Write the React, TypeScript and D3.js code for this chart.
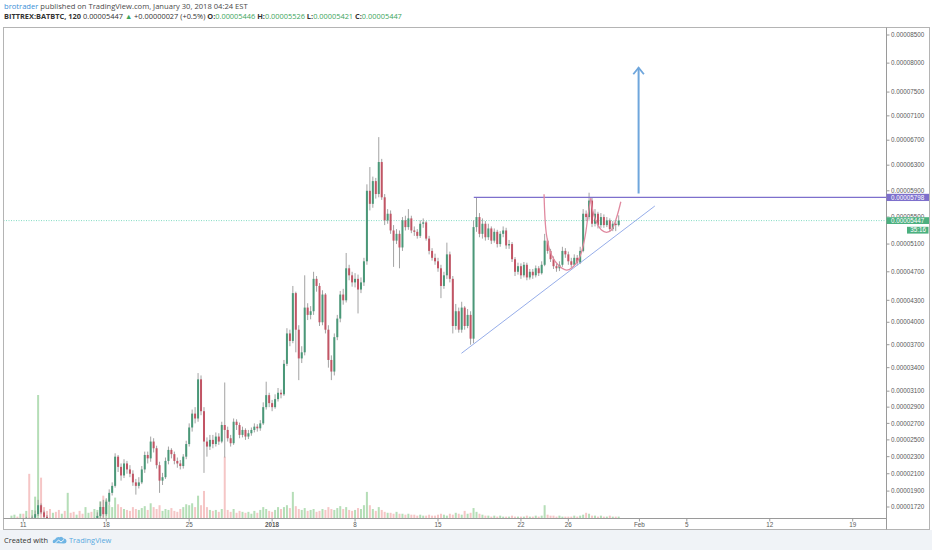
import * as d3 from 'd3';

// BATBTC, 6h candles (price in units of 1e-8 BTC)
const START = Date.UTC(2017, 11, 10);
const STEP = 6 * 3600 * 1000;
const JAN1 = Date.UTC(2018, 0, 1);
const DAY = 86400000;

const closes = [
  1540, 1555, 1530, 1560, 1550, 1580, 1570, 1600, 1640, 1740, 1660, 1610,
  1580, 1560, 1570, 1545, 1530, 1550, 1520, 1560, 1540, 1525, 1550, 1535,
  1520, 1545, 1560, 1550, 1580, 1620, 1720, 1640, 1780, 1880, 1960, 2300,
  2180, 2080, 2220, 2150, 2100, 2000, 1960, 2000, 2150, 2320, 2280, 2480,
  2400, 2200, 2020, 2060, 2250, 2380, 2330, 2250, 2220, 2190, 2300, 2450,
  2650, 2820, 2760, 3250, 2850, 2480, 2420, 2500, 2450, 2540, 2480, 2680,
  2620, 2520, 2460, 2720, 2680, 2560, 2620, 2540, 2580, 2620, 2660, 2640,
  2700, 2900, 3050, 2950, 2900, 3000, 3080, 3060, 3450, 3850, 3750, 4400,
  3900, 3520, 3600, 4200, 4100, 4150, 4600, 4500, 4000, 4380, 3900, 3500,
  3350, 3800, 4050, 4380, 4300, 4750, 4650, 4550, 4600, 4450, 4550, 4850,
  5900, 5700, 6050, 5850, 6350, 5800, 5450, 5550, 5300, 5150, 5250, 5050,
  5450, 5350, 5480, 5300, 5280, 5220, 5400, 5420, 5180, 5000, 4900, 4850,
  4750, 4500, 4650, 4950, 4600, 3950, 4150, 3900, 4200, 3950, 4100, 3780,
  5350, 5500, 5250, 5400, 5200, 5330, 5150, 5280, 5100, 5250, 5300, 5080,
  5100, 4880, 4700, 4780, 4650, 4800, 4620, 4700, 4650, 4750, 4680, 4800,
  5150, 5000, 4880, 4780, 4750, 4800, 5000, 4950, 4850, 4800, 4900, 4830,
  5000, 5550, 5500, 5750, 5400, 5550, 5380, 5500, 5380, 5450, 5320, 5400,
  5380, 5447,
];

const highs = [
  1565, 1575, 1570, 1580, 1585, 1610, 1600, 1625, 1680, 1800, 1760, 1680,
  1630, 1600, 1595, 1590, 1570, 1575, 1565, 1585, 1580, 1560, 1570, 1565,
  1550, 1565, 1585, 1580, 1600, 1660, 1780, 1800, 1820, 1920, 2000, 2340,
  2320, 2220, 2270, 2250, 2200, 2140, 2040, 2060, 2190, 2360, 2360, 2540,
  2520, 2430, 2240, 2110, 2290, 2420, 2400, 2360, 2290, 2260, 2330, 2490,
  2700, 2870, 2900, 3330, 3300, 2900, 2530, 2560, 2560, 2590, 2580, 2720,
  3210, 2660, 2560, 2760, 2750, 2710, 2660, 2640, 2620, 2650, 2700, 2690,
  2740, 2960, 3220, 3080, 2990, 3060, 3140, 3120, 3500, 3920, 3900, 4500,
  4420, 3960, 3680, 4650, 4260, 4220, 4700, 4640, 4540, 4440, 4400, 3960,
  3560, 3850, 4100, 4430, 4460, 4970, 4800, 4700, 4680, 4660, 4620, 4900,
  6000, 6270, 6120, 6100, 6750, 6400, 5850, 5620, 5600, 5380, 5320, 5300,
  5500, 5520, 5620, 5520, 5360, 5320, 5450, 5480, 5440, 5220, 5040, 4960,
  4900, 4800, 4700, 5120, 4990, 4640, 4250, 4200, 4280, 4220, 4180, 4150,
  5450, 5790, 5560, 5480, 5440, 5400, 5360, 5330, 5310, 5290, 5360, 5340,
  5160, 5130, 4910, 4830, 4820, 4840, 4830, 4740, 4740, 4790, 4780, 4850,
  5250, 5180, 5030, 4920, 4820, 4850, 5060, 5040, 4990, 4900, 4950, 4940,
  5060, 5620, 5600, 5870, 5790, 5620, 5580, 5560, 5540, 5500, 5480, 5440,
  5440, 5526,
];

const lows = [
  1520, 1525, 1515, 1520, 1530, 1535, 1550, 1555, 1585, 1620, 1640, 1590,
  1560, 1540, 1545, 1525, 1510, 1515, 1500, 1505, 1520, 1505, 1510, 1515,
  1500, 1505, 1530, 1530, 1535, 1560, 1600, 1600, 1620, 1740, 1850, 1940,
  2120, 2020, 2050, 2100, 2060, 1960, 1860, 1930, 1980, 2110, 2220, 2240,
  2350, 2160, 1880, 1970, 2040, 2210, 2280, 2210, 2170, 2150, 2160, 2270,
  2420, 2600, 2700, 2720, 2800, 2110, 2300, 2380, 2400, 2420, 2440, 2460,
  2290, 2480, 2420, 2440, 2620, 2520, 2530, 2500, 2510, 2550, 2590, 2600,
  2610, 2680, 2870, 2900, 2850, 2880, 2970, 3010, 3040, 3420, 3680, 3720,
  3600, 3240, 3460, 3560, 4030, 4040, 4100, 4420, 3950, 3960, 3850, 3400,
  3240, 3300, 3760, 4000, 4240, 4270, 4580, 4490, 4480, 4120, 4400, 4500,
  4800, 5600, 5640, 5780, 5800, 5760, 5380, 5400, 5250, 4770, 5100, 4750,
  5000, 5300, 5310, 5260, 5220, 5180, 5190, 5340, 5150, 4950, 4860, 4800,
  4700, 4330, 4460, 4600, 4550, 3850, 3900, 3860, 3860, 3900, 3920, 3700,
  3720, 5280, 5200, 5180, 5150, 5160, 5100, 5120, 5050, 5060, 5200, 5030,
  5030, 4840, 4640, 4660, 4600, 4620, 4580, 4590, 4600, 4620, 4640, 4660,
  4780, 4960, 4840, 4740, 4700, 4710, 4770, 4900, 4800, 4760, 4780, 4790,
  4810, 4980, 5440, 5460, 5350, 5360, 5330, 5340, 5340, 5350, 5280, 5290,
  5290, 5360,
];

const volumes = [
  3, 4, 2, 5, 5, 8, 47, 9, 23, 130, 43, 12,
  8, 10, 6, 7, 9, 5, 8, 27, 6, 7, 4, 8,
  5, 12, 6, 7, 10, 9, 18, 24, 20, 14, 12, 22,
  15, 12, 10, 9, 8, 12, 10, 9, 11, 13, 9, 16,
  12, 10, 14, 8, 10, 9, 11, 8, 7, 10, 12, 15,
  14, 16, 12, 24, 14, 29, 12, 9, 8, 9, 7, 10,
  65, 9, 7, 10, 6, 8, 7, 6, 7, 5, 8, 6,
  9, 12, 10, 8, 7, 9, 12, 10, 12, 14, 11, 28,
  13, 10, 9, 11, 8, 9, 10, 7, 8, 10, 9, 12,
  10, 9, 11, 13, 10, 12, 9, 8, 9, 11, 10, 14,
  28, 14, 10, 8, 12, 9, 7, 6, 6, 5, 7, 5,
  5, 4, 5, 4, 4, 3, 4, 3, 3, 4, 3, 3,
  4, 5, 4, 3, 5, 4, 6, 5, 4, 8, 5, 6,
  11, 7, 5, 4, 3, 3, 2, 3, 2, 3, 2, 2,
  2, 3, 2, 2, 2, 2, 3, 2, 2, 3, 2, 3,
  14, 4, 3, 3, 2, 3, 2, 2, 2, 2, 3, 2,
  3, 4, 6, 5, 3, 3, 2, 3, 2, 2, 3, 2,
  2, 2,
];

const priceTicks = [
  8500, 8000, 7500, 7100, 6700, 6300, 5900, 5500, 5100, 4700, 4300, 4000,
  3700, 3400, 3100, 2900, 2700, 2500, 2300, 2100, 1900, 1720,
];

const timeTickDates = [
  Date.UTC(2017, 11, 11), Date.UTC(2017, 11, 18), Date.UTC(2017, 11, 25),
  Date.UTC(2018, 0, 1), Date.UTC(2018, 0, 8), Date.UTC(2018, 0, 15),
  Date.UTC(2018, 0, 22), Date.UTC(2018, 0, 26), Date.UTC(2018, 1, 1),
  Date.UTC(2018, 1, 5), Date.UTC(2018, 1, 12), Date.UTC(2018, 1, 19),
];
const timeTickLabels = ['11', '18', '25', '2018', '8', '15', '22', '26', 'Feb', '5', '12', '19'];

// drawings: [days since Jan 1, price]
const resistancePrice = 5798;
const resistanceStart = 17.02;
const trendLine = [[15.98, 3587], [32.3, 5667]];
const cupPoints = [
  [22.95, 5846], [23.16, 5233], [23.58, 4941], [24.14, 4797], [24.84, 4725],
  [25.4, 4773], [25.97, 4917], [26.39, 5189], [26.67, 5531], [26.89, 5784],
];
const handlePoints = [
  [26.89, 5784], [27.23, 5486], [27.8, 5307], [28.22, 5273], [28.64, 5307],
  [29.06, 5486], [29.43, 5732],
];
const arrowPoints = [[30.93, 5860], [30.93, 7920]];
const lastPrice = 5447;
const countdown = '35:16';

const W = 932;
const H = 550;
const plot = { left: 3.5, right: 886.5, top: 27.5, bottom: 518.5 };

const UP = '#4a9878';
const DOWN = '#c25565';
const WICK = '#8c8c8c';
const AXIS_FONT = '"Liberation Sans", Arial, sans-serif';
const HEAD_FONT = '"Open Sans", "Noto Sans", sans-serif';

const fmt = (v: number) => (v * 1e-8).toFixed(8);

export default function App() {
  const x = d3
    .scaleUtc()
    .domain([new Date(Date.UTC(2017, 11, 11)), new Date(Date.UTC(2018, 1, 19))])
    .range([23.3, 852.7]);
  const y = d3.scaleSymlog().constant(9500).domain([1720, 8500]).range([507, 35]);
  const vy = d3.scaleLinear().domain([0, 130]).range([plot.bottom, 395]);

  const px = (d: number) => x(new Date(JAN1 + d * DAY));
  const candleX = (i: number) => x(new Date(START + i * STEP));

  const candles = closes.map((c, i) => ({
    i,
    open: i === 0 ? c : closes[i - 1],
    close: c,
    high: highs[i],
    low: lows[i],
    vol: volumes[i],
  }));

  const curve = d3
    .line<number[]>()
    .x((d) => px(d[0]))
    .y((d) => y(d[1]))
    .curve(d3.curveCatmullRom.alpha(0.5));
  const straight = d3
    .line<number[]>()
    .x((d) => px(d[0]))
    .y((d) => y(d[1]));

  const ax = px(arrowPoints[1][0]);
  const ay = y(arrowPoints[1][1]);
  const lastY = y(lastPrice);

  return (
    <div style={{ position: 'absolute', left: 0, top: 0 }}>
      <svg width={W} height={H} style={{ display: 'block' }}>
        <rect x={0} y={0} width={W} height={H} fill="#ffffff" />
        <rect x={0} y={530} width={W} height={20} fill="#f0f3f7" />

        {/* header */}
        <text x={4} y={9} fontFamily={HEAD_FONT} fontSize={7.6} fill="#4a4a4a">
          <tspan fill="#3c8fd6">brotrader</tspan>
          <tspan> published on TradingView.com, January 30, 2018 04:24 EST</tspan>
        </text>
        <text x={4} y={19} fontFamily={HEAD_FONT} fontSize={7.4} fill="#333">
          <tspan fontWeight="bold">BITTREX:BATBTC, 120</tspan>
          <tspan> 0.00005447 </tspan>
          <tspan fill="#3ca55c">▲</tspan>
          <tspan> +0.00000027 (+0.5%) </tspan>
          <tspan fontWeight="bold">O:</tspan>
          <tspan fill="#3ca55c">0.00005446 </tspan>
          <tspan fontWeight="bold">H:</tspan>
          <tspan fill="#3ca55c">0.00005526 </tspan>
          <tspan fontWeight="bold">L:</tspan>
          <tspan fill="#3ca55c">0.00005421 </tspan>
          <tspan fontWeight="bold">C:</tspan>
          <tspan fill="#3ca55c">0.00005447</tspan>
        </text>

        <defs>
          <clipPath id="plotClip">
            <rect
              x={plot.left}
              y={plot.top}
              width={plot.right - plot.left}
              height={plot.bottom - plot.top}
            />
          </clipPath>
          {/* the 0.00005500 label peeks out above the last-price box */}
          <clipPath id="peekClip">
            <rect x={plot.right} y={0} width={50} height={lastY - 3.4} />
          </clipPath>
        </defs>

        <g clipPath="url(#plotClip)">
          {candles.map((d) => (
            <rect
              key={'v' + d.i}
              x={candleX(d.i) - 1}
              y={vy(d.vol)}
              width={2}
              height={plot.bottom - vy(d.vol)}
              fill={d.close >= d.open ? 'rgba(108,190,112,0.5)' : 'rgba(232,128,128,0.45)'}
            />
          ))}

          <line
            x1={plot.left}
            x2={plot.right}
            y1={lastY}
            y2={lastY}
            stroke="#62d2b4"
            strokeWidth={0.8}
            strokeDasharray="1 1.5"
          />

          {candles.map((d) => {
            const cx = candleX(d.i);
            const top = y(Math.max(d.open, d.close));
            const bot = y(Math.min(d.open, d.close));
            return (
              <g key={'c' + d.i}>
                <line x1={cx} x2={cx} y1={y(d.high)} y2={y(d.low)} stroke={WICK} strokeWidth={0.8} />
                <rect
                  x={cx - 1}
                  y={top}
                  width={2}
                  height={Math.max(1, bot - top)}
                  fill={d.close >= d.open ? UP : DOWN}
                />
              </g>
            );
          })}

          <line
            x1={px(resistanceStart)}
            x2={plot.right}
            y1={y(resistancePrice)}
            y2={y(resistancePrice)}
            stroke="#7d6fcc"
            strokeWidth={1.2}
          />
          <path d={straight(trendLine) || ''} fill="none" stroke="#8aa4e6" strokeWidth={0.9} />
          <path d={curve(cupPoints) || ''} fill="none" stroke="#e0899f" strokeWidth={1.3} />
          <path d={curve(handlePoints) || ''} fill="none" stroke="#e0899f" strokeWidth={1.3} />
          <path d={straight(arrowPoints) || ''} fill="none" stroke="#6fa6dc" strokeWidth={2} />
          <path
            d={`M${ax - 5.3},${ay + 6.6}L${ax},${ay}L${ax + 5.3},${ay + 6.6}`}
            fill="none"
            stroke="#6fa6dc"
            strokeWidth={1.8}
          />
        </g>

        {/* frame */}
        <rect x={3.5} y={27.5} width={926} height={502} fill="none" stroke="#b4b4b4" />
        <line x1={plot.right} x2={plot.right} y1={27.5} y2={529.5} stroke="#9a9a9a" />
        <line x1={3.5} x2={plot.right} y1={plot.bottom} y2={plot.bottom} stroke="#9a9a9a" />

        {/* price axis */}
        {priceTicks.map((v) => (
          <g key={'p' + v} clipPath={v === 5500 ? 'url(#peekClip)' : undefined}>
            <line x1={plot.right} x2={plot.right + 3} y1={y(v)} y2={y(v)} stroke="#9a9a9a" />
            <text
              x={891}
              y={y(v)}
              dy="0.35em"
              fontFamily={AXIS_FONT}
              fontSize={6.3}
              fill="#5a5a5a"
            >
              {fmt(v)}
            </text>
          </g>
        ))}

        <rect x={plot.right} y={y(resistancePrice) - 3.6} width={42.5} height={7.2} fill="#7d6fcc" />
        <text
          x={891}
          y={y(resistancePrice)}
          dy="0.35em"
          fontFamily={AXIS_FONT}
          fontSize={6.3}
          fill="#ffffff"
        >
          {fmt(resistancePrice)}
        </text>
        <rect x={plot.right} y={lastY - 3.4} width={42.5} height={6.8} fill="#4cb07f" />
        <text
          x={891}
          y={lastY}
          dy="0.35em"
          fontFamily={AXIS_FONT}
          fontSize={6.3}
          fill="#ffffff"
        >
          {fmt(lastPrice)}
        </text>
        <rect x={907} y={lastY + 6.2} width={21.5} height={6.8} fill="#4cb07f" />
        <text
          x={926}
          y={lastY + 9.6}
          dy="0.35em"
          textAnchor="end"
          fontFamily={AXIS_FONT}
          fontSize={6.3}
          fill="#ffffff"
        >
          {countdown}
        </text>

        {/* time axis */}
        {timeTickDates.map((t, k) => {
          const tx = x(new Date(t));
          return (
            <g key={'t' + t}>
              <line x1={tx} x2={tx} y1={plot.bottom} y2={plot.bottom + 3} stroke="#9a9a9a" />
              <text
                x={tx}
                y={526.5}
                textAnchor="middle"
                fontFamily={AXIS_FONT}
                fontSize={6.3}
                fontWeight={timeTickLabels[k] === '2018' ? 'bold' : 'normal'}
                fill="#5a5a5a"
              >
                {timeTickLabels[k]}
              </text>
            </g>
          );
        })}

        {/* footer */}
        <text x={4} y={543} fontFamily={HEAD_FONT} fontSize={7.4} fill="#333">
          Created with
        </text>
        <g transform="translate(52,536)" fill="#58a9e0">
          <path d="M1,7 Q0,4 3,3.6 Q4,0.5 7.5,1.2 Q10,0 11.5,2.5 Q14.5,2.6 14.5,5.5 Q14.5,7.5 12,7.5 Z" opacity={0.85} />
          <path d="M3,7.5 L6.5,4 L9,6 L12,3.5" fill="none" stroke="#ffffff" strokeWidth={0.9} />
        </g>
        <text x={69} y={543} fontFamily={HEAD_FONT} fontSize={7.4} fill="#58a9e0">
          TradingView
        </text>
      </svg>
    </div>
  );
}
